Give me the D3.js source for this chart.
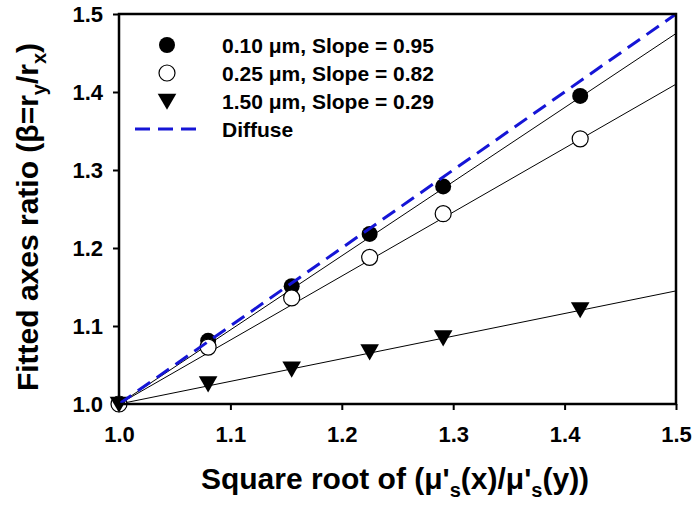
<!DOCTYPE html>
<html>
<head>
<meta charset="utf-8">
<script src="https://cdn.jsdelivr.net/npm/d3@7"></script>
<style>
  html, body { margin: 0; padding: 0; background: #fff; }
  svg { display: block; font-family: "Liberation Sans", Arial, sans-serif; font-weight: bold; }
</style>
</head>
<body>
<svg id="chart" width="695" height="506"></svg>
<script>
// Square root of the scattering-coefficient ratio (x positions of the measurements)
const xValues = [1.0, 1.080, 1.155, 1.225, 1.291, 1.414];

// Fitted axes ratio for each particle size
const beta010 = [1.0, 1.081, 1.151, 1.218, 1.279, 1.395];
const beta025 = [1.0, 1.073, 1.136, 1.188, 1.244, 1.340];
const beta150 = [1.0, 1.026, 1.045, 1.067, 1.085, 1.121];

// Linear fit slopes (lines through (1, 1))
const slopes = [0.95, 0.82, 0.29];
const seriesLabels = ["0.10 \u03bcm, Slope = 0.95", "0.25 \u03bcm, Slope = 0.82", "1.50 \u03bcm, Slope = 0.29"];
const diffuseLabel = "Diffuse";
const diffuseSlope = 1.0;

const xTicks = [1.0, 1.1, 1.2, 1.3, 1.4, 1.5];
const yTicks = [1.0, 1.1, 1.2, 1.3, 1.4, 1.5];

const svg = d3.select("#chart");
const m = { left: 119, right: 676, top: 14, bottom: 404 };

const x = d3.scaleLinear().domain([1.0, 1.5]).range([m.left, m.right]);
const y = d3.scaleLinear().domain([1.0, 1.5]).range([m.bottom, m.top]);

// Axes (ticks point outward)
const xAxis = d3.axisBottom(x).tickValues(xTicks).tickFormat(d3.format(".1f")).tickSize(6).tickPadding(16);
const yAxis = d3.axisLeft(y).tickValues(yTicks).tickFormat(d3.format(".1f")).tickSize(6).tickPadding(10);

const gx = svg.append("g").attr("transform", `translate(0,${m.bottom})`).call(xAxis);
const gy = svg.append("g").attr("transform", `translate(${m.left},0)`).call(yAxis);
[gx, gy].forEach(g => {
  g.select(".domain").remove();
  g.selectAll(".tick line").attr("stroke", "#000").attr("stroke-width", 2);
  g.selectAll(".tick text").attr("fill", "#000").style("font-size", "22px").style("font-weight", "bold")
    .style("font-family", "'Liberation Sans', Arial, sans-serif");
});

// Fit lines
const fitLine = s => d3.line()
  .x(d => x(d))
  .y(d => y(1 + s * (d - 1)));
slopes.forEach(s => {
  svg.append("path").datum([1.0, 1.5]).attr("d", fitLine(s))
    .attr("fill", "none").attr("stroke", "#000").attr("stroke-width", 1);
});

// Markers
const r = 8;
const tri = d3.symbol().type(d3.symbolTriangle).size(150);

svg.append("g").selectAll("circle").data(d3.zip(xValues, beta010)).join("circle")
  .attr("cx", d => x(d[0])).attr("cy", d => y(d[1])).attr("r", r)
  .attr("fill", "#000");

svg.append("g").selectAll("circle").data(d3.zip(xValues, beta025)).join("circle")
  .attr("cx", d => x(d[0])).attr("cy", d => y(d[1])).attr("r", r)
  .attr("fill", "#fff").attr("stroke", "#000").attr("stroke-width", 1.2);

svg.append("g").selectAll("path").data(d3.zip(xValues, beta150)).join("path")
  .attr("d", tri)
  .attr("transform", d => `translate(${x(d[0])},${y(d[1]) - 2}) rotate(180)`)
  .attr("fill", "#000");

// Diffuse reference line
svg.append("path").datum([1.0, 1.5]).attr("d", fitLine(diffuseSlope))
  .attr("fill", "none").attr("stroke", "#1515d6").attr("stroke-width", 3)
  .attr("stroke-dasharray", "15,8");

// Plot frame
svg.append("rect")
  .attr("x", m.left).attr("y", m.top)
  .attr("width", m.right - m.left).attr("height", m.bottom - m.top)
  .attr("fill", "none").attr("stroke", "#000").attr("stroke-width", 2.5);

// Legend
const lg = svg.append("g");
const rowsY = [45, 73, 101, 129];
const symX = 167, textX = 222;
lg.append("circle").attr("cx", symX).attr("cy", rowsY[0]).attr("r", r).attr("fill", "#000");
lg.append("circle").attr("cx", symX).attr("cy", rowsY[1]).attr("r", r)
  .attr("fill", "#fff").attr("stroke", "#000").attr("stroke-width", 1.2);
lg.append("path").attr("d", tri).attr("transform", `translate(${symX},${rowsY[2] - 2}) rotate(180)`).attr("fill", "#000");
lg.append("line").attr("x1", 135).attr("x2", 197).attr("y1", rowsY[3]).attr("y2", rowsY[3])
  .attr("stroke", "#1515d6").attr("stroke-width", 3).attr("stroke-dasharray", "15,8");
seriesLabels.concat([diffuseLabel]).forEach((t, i) => {
  lg.append("text").attr("x", textX).attr("y", rowsY[i]).attr("dy", "0.36em")
    .style("font-size", "21px").text(t);
});

// X-axis title: Square root of (μ's(x)/μ's(y))
const xt = svg.append("text").attr("x", 395).attr("y", 489)
  .attr("text-anchor", "middle").style("font-size", "30px");
xt.append("tspan").text("Square root of (\u03bc'");
xt.append("tspan").attr("dy", 8).style("font-size", "20px").text("s");
xt.append("tspan").attr("dy", -8).text("(x)/\u03bc'");
xt.append("tspan").attr("dy", 8).style("font-size", "20px").text("s");
xt.append("tspan").attr("dy", -8).text("(y))");

// Y-axis title: Fitted axes ratio (β=ry/rx)
const yt = svg.append("text")
  .attr("transform", `translate(38,217) rotate(-90)`)
  .attr("text-anchor", "middle").style("font-size", "30px");
yt.append("tspan").text("Fitted axes ratio (\u03b2=r");
yt.append("tspan").attr("dy", 8).style("font-size", "20px").text("y");
yt.append("tspan").attr("dy", -8).text("/r");
yt.append("tspan").attr("dy", 8).style("font-size", "20px").text("x");
yt.append("tspan").attr("dy", -8).text(")");
</script>
</body>
</html>
